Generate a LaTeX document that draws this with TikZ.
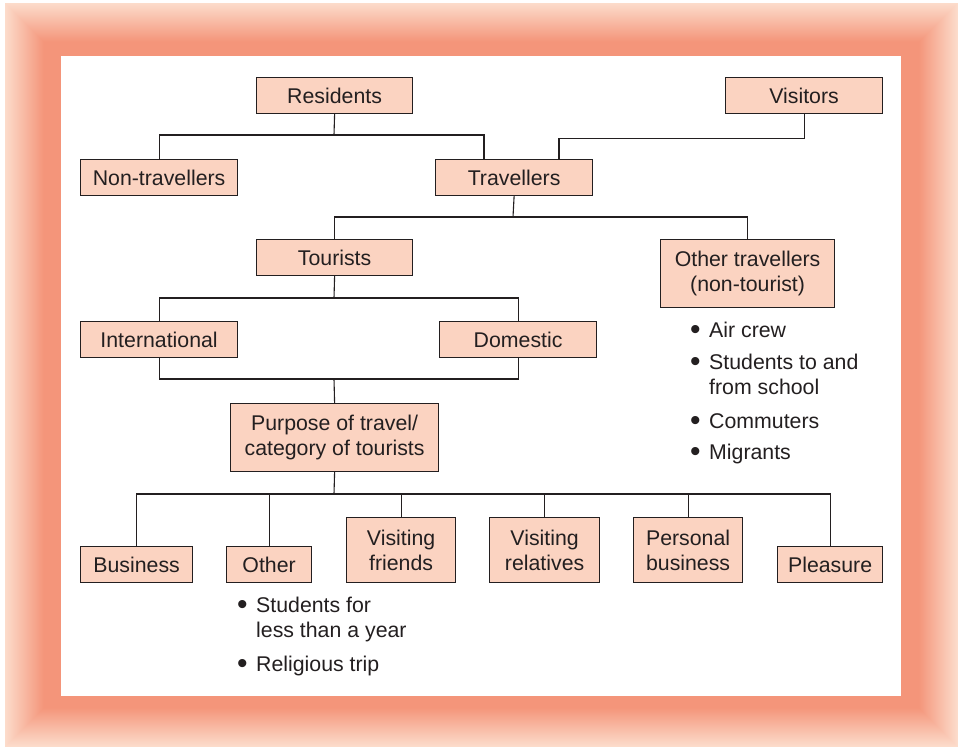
\documentclass[tikz,border=0pt]{standalone}
\usepackage{fontspec}
\setmainfont{Liberation Sans}
\usetikzlibrary{calc}
\definecolor{boxfill}{HTML}{FBD3C1}
\definecolor{ink}{HTML}{231F20}
\definecolor{frameout}{HTML}{FCDCCB}
\definecolor{framein}{HTML}{F4957A}
\tikzset{
  box/.style={draw=ink, line width=1.2pt, fill=boxfill, text=ink, align=center,
    inner sep=0pt, font=\fontsize{21.3}{25}\selectfont, anchor=north west},
  conn/.style={draw=ink, line width=1.1pt},
  item/.style={anchor=base west, inner sep=0pt, text=ink, font=\fontsize{21.3}{25}\selectfont},
  bul/.style={anchor=base west, inner sep=0pt, text=ink, font=\fontsize{30}{30}\selectfont},
}
\newcommand{\mybox}[6]{% name, x1, y1, x2, y2, text
  \node[box, minimum width={(#4-#2)*1pt}, minimum height={(#5-#3)*1pt}] (#1) at (#2,#3) {#6};}
\begin{document}
\begin{tikzpicture}[x=1pt,y=-1pt]
\useasboundingbox (0,0) rectangle (961,748);
% frame
\fill[white] (0,0) rectangle (961,748);
\foreach \i in {0,...,40}{
  \pgfmathsetmacro{\pct}{min(100,\i*2.6)}
  \fill[framein!\pct!frameout] (5+\i,3+\i) rectangle (958-\i,747-\i);
}
\fill[white] (61,56) rectangle (901,696);
% boxes
\mybox{Res}{256}{77}{412}{113}{Residents}
\mybox{Vis}{725}{77}{882}{113}{Visitors}
\mybox{NonT}{80}{159}{237}{195}{Non-travellers}
\mybox{Trav}{435}{159}{592}{195}{Travellers}
\mybox{Tour}{256}{239}{412}{275}{Tourists}
\mybox{OthT}{660}{239}{834}{307}{Other travellers\\(non-tourist)}
\mybox{Intl}{80}{321}{237}{357}{International}
\mybox{Dom}{439}{321}{596}{357}{Domestic}
\mybox{Purp}{230}{403}{438}{471}{Purpose of travel/\\category of tourists}
\mybox{Bus}{80}{546}{192}{582}{Business}
\mybox{Oth}{226}{546}{311}{582}{Other}
\mybox{VF}{346}{517}{455}{582}{Visiting\\friends}
\mybox{VR}{489}{517}{599}{582}{Visiting\\relatives}
\mybox{PB}{633}{517}{742}{582}{Personal\\business}
\mybox{Plea}{777}{546}{882}{582}{Pleasure}
% junctions
\coordinate (j1) at (334,135);
\coordinate (j3) at (513,217);
\coordinate (j4) at (334,298);
\coordinate (j5) at (334,379);
\coordinate (j6) at (334,494);
% connectors
\draw[conn] (Res.south) -- (j1);
\draw[conn] (NonT.north) |- (j1) -| ([xshift=49pt]Trav.north west);
\draw[conn] (Vis.south) -- ++(0,24) -| ([xshift=124pt]Trav.north west);
\draw[conn] (Trav.south) -- (j3);
\draw[conn] (Tour.north) |- (j3) -| (OthT.north);
\draw[conn] (Tour.south) -- (j4);
\draw[conn] (Intl.north) |- (j4) -| (Dom.north);
\draw[conn] (Intl.south) |- (j5) -| (Dom.south);
\draw[conn] (j5) -- (Purp.north);
\draw[conn] (Purp.south) -- (j6);
\draw[conn] (Bus.north) |- (j6) -| (Plea.north);
\draw[conn] (Oth.north) -- (Oth.north |- j6);
\draw[conn] (VF.north) -- (VF.north |- j6);
\draw[conn] (VR.north) -- (VR.north |- j6);
\draw[conn] (PB.north) -- (PB.north |- j6);
% bullet lists
\node[bul] (b1) at (690,339) {\textbullet};
\node[item] (t1) at (709,337) {Air crew};
\node[bul] (b2) at (690,371) {\textbullet};
\node[item] (t2) at (709,369) {Students to and};
\node[item] (t2b) at (709,394) {from school};
\node[bul] (b3) at (690,430) {\textbullet};
\node[item] (t3) at (709,428) {Commuters};
\node[bul] (b4) at (690,461) {\textbullet};
\node[item] (t4) at (709,459) {Migrants};
\node[bul] (b5) at (237,614) {\textbullet};
\node[item] (t5) at (256,612) {Students for};
\node[item] (t5b) at (256,637) {less than a year};
\node[bul] (b6) at (237,673) {\textbullet};
\node[item] (t6) at (256,671) {Religious trip};
\end{tikzpicture}
\end{document}
